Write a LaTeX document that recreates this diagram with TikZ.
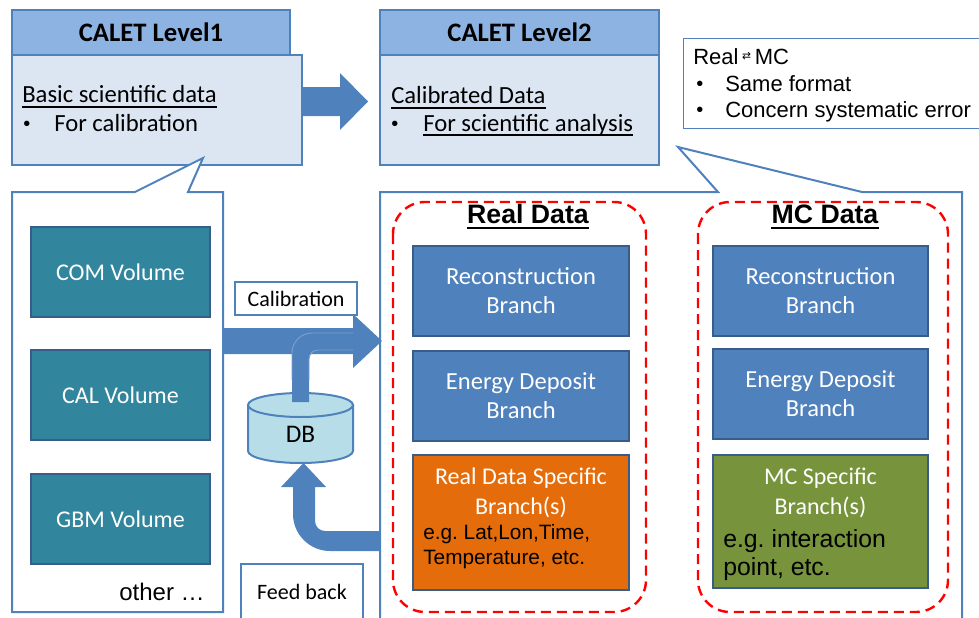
\documentclass[tikz,border=0pt]{standalone}
\usepackage{fontspec}
\setmainfont{Carlito}
\newfontfamily\arialf{Liberation Sans}
\newfontfamily\dejavuf{DejaVu Sans}
\definecolor{hdrblue}{HTML}{8DB3E2}
\definecolor{bodyblue}{HTML}{DCE6F2}
\definecolor{blueA}{HTML}{4F81BD}
\definecolor{blueB}{HTML}{385D8A}
\definecolor{tealA}{HTML}{31859C}
\definecolor{orangeA}{HTML}{E46C0A}
\definecolor{greenA}{HTML}{77933C}
\definecolor{dbfill}{HTML}{B7DEE8}
\definecolor{lightline}{HTML}{7C9FCD}
\frenchspacing
\begin{document}
\begin{tikzpicture}[x=0.75pt,y=-0.75pt,
  lvlhdr/.style={draw=blueA, fill=hdrblue, line width=1.5pt, inner sep=0pt,
    font=\fontsize{20}{24}\selectfont\bfseries},
  lvlbody/.style={draw=blueA, fill=bodyblue, line width=1.5pt, inner sep=0pt},
  callout/.style={draw=blueA, fill=white, line width=1.5pt, line join=miter},
  branchbox/.style={draw=blueB, fill=blueA, line width=1.5pt, text=white,
    font=\fontsize{18.4}{21.75}\selectfont, align=center, inner sep=0pt,
    minimum width=162pt, minimum height=67.5pt},
  volbox/.style={draw=blueB, fill=tealA, line width=1.5pt, text=white,
    font=\fontsize{18}{21}\selectfont, inner sep=0pt,
    minimum width=134.25pt, minimum height=67.5pt},
  tagbox/.style={draw=blueA, fill=white, line width=1.2pt, inner sep=0pt,
    font=\fontsize{16.5}{20}\selectfont},
  redbox/.style={draw=red, line width=1.8pt, dash pattern=on 7.5pt off 4.5pt,
    rounded corners=24pt},
  txt/.style={inner sep=0pt, anchor=base west},
  bodytxt/.style={txt, font=\fontsize{18.5}{22}\selectfont},
  bullettxt/.style={txt, font=\arialf\fontsize{15}{18}\selectfont},
  notetxt/.style={txt, font=\arialf\fontsize{16.5}{20}\selectfont},
  egtxt/.style={txt, font=\arialf\fontsize{15.6}{19}\selectfont},
  egbig/.style={txt, font=\arialf\fontsize{18.6}{22}\selectfont},
  sectitle/.style={inner sep=0pt, anchor=base, font=\arialf\bfseries\fontsize{20}{24}\selectfont},
  whitetxt/.style={inner sep=0pt, anchor=base, text=white, font=\fontsize{18}{21}\selectfont}
]
\useasboundingbox (0,0) rectangle (979,618);
\fill[white] (0,0) rectangle (979,618);
\clip (0,0) rectangle (979,618);

% ---------- Level 1 ----------
\node[lvlbody, minimum width=217.5pt, minimum height=82.5pt] (body1) at (157,110) {};
\node[lvlhdr, minimum width=208.5pt, minimum height=33.75pt] (hdr1) at (151,32.5) {CALET Level1};
\node[bodytxt] (basic) at (22,102) {Basic scientific data};
\draw[line width=1.1pt] ([yshift=-3.6pt]basic.base west) -- ([yshift=-3.6pt]basic.base east);
\node[bullettxt] (bul1) at (23,130) {•};
\node[bodytxt] (forcal) at (54,131) {For calibration};

% ---------- big arrow Level1 -> Level2 ----------
\fill[blueA] (302,87) -- (340,87) -- (340,73) -- (368,101.5) -- (340,130) -- (340,116) -- (302,116) -- cycle;

% ---------- Level 2 ----------
\node[lvlbody, minimum width=209.25pt, minimum height=82.5pt] (body2) at (519.5,110) {};
\node[lvlhdr, minimum width=209.25pt, minimum height=33.75pt] (hdr2) at (519.5,32.5) {CALET Level2};
\node[bodytxt] (calib) at (391,103) {Calibrated Data};
\draw[line width=1.1pt] ([yshift=-3.6pt]calib.base west) -- ([yshift=-3.6pt]calib.base east);
\node[bullettxt] (bul2) at (391,130) {•};
\node[bodytxt] (forsci) at (423,131) {For scientific analysis};
\draw[line width=1.1pt] ([yshift=-3pt]forsci.base west) -- ([yshift=-3pt]forsci.base east);

% ---------- note box ----------
\node[draw=blueA, fill=white, line width=1pt, anchor=north west, inner sep=0pt,
  minimum width=226.5pt, minimum height=67.5pt] (note) at (683,38) {};
\node[notetxt] (realmc) at (693,64) {Real\,\raisebox{3.5pt}{\dejavuf\fontsize{8}{10}\selectfont ⇄}\,MC};
\node[bullettxt] (nb1) at (696,90) {•};
\node[notetxt] (same) at (725,91) {Same format};
\node[bullettxt] (nb2) at (696,116) {•};
\node[notetxt] (conc) at (725,117) {Concern systematic error};

% ---------- callouts ----------
\filldraw[callout] (12,192) -- (135,192) -- (203,158) -- (188,192) -- (223,192) -- (223,612) -- (12,612) -- cycle;
\filldraw[callout] (380,192) -- (718,192) -- (678,147) -- (862,192) -- (962,192) -- (962,640) -- (380,640) -- cycle;

% ---------- volumes ----------
\node[volbox] (com) at (120.5,272) {COM Volume};
\node[volbox] (cal) at (120.5,395) {CAL Volume};
\node[volbox] (gbm) at (120.5,519) {GBM Volume};
\node[inner sep=0pt, anchor=base east, font=\arialf\fontsize{18}{21}\selectfont] (other) at (205,600) {other …};

% ---------- calibration arrow ----------
\node[tagbox, minimum width=91.5pt, minimum height=24.75pt] (calibtag) at (296,298.5) {Calibration};
\fill[blueA] (223,328) -- (353,328) -- (353,314) -- (382,341) -- (353,368) -- (353,354) -- (223,354) -- cycle;

% ---------- DB ----------
\filldraw[draw=blueA, fill=dbfill, line width=1.5pt] (248,405) -- (248,451)
  arc[start angle=180, end angle=360, x radius=39.375pt, y radius=9pt] -- (353,405) -- cycle;
\filldraw[draw=blueA, fill=dbfill, line width=1.5pt] (300.5,405) ellipse [x radius=39.375pt, y radius=9pt];
\node[inner sep=0pt, font=\fontsize{19}{22}\selectfont] (db) at (300.5,434) {DB};

% bent arrow DB -> calibration arrow
\fill[blueA] (292,402) -- (292,353) .. controls (292,342) and (301,333) .. (312,333) -- (354,333)
  -- (354,350) -- (318,350) .. controls (313,350) and (309,354) .. (309,359) -- (309,402) -- cycle;
\draw[lightline, line width=0.7pt] (292,380) -- (292,353) .. controls (292,342) and (301,333) .. (312,333) -- (353,333);
\draw[lightline, line width=0.7pt] (353,350) -- (318,350) .. controls (313,350) and (309,354) .. (309,359) -- (309,380);

% ---------- feedback arrow ----------
\fill[blueA] (380,551) -- (330,551) .. controls (309.6,551) and (293,534.4) .. (293,514) -- (293,487)
  -- (281,487) -- (303.5,463) -- (326,487) -- (315,487) -- (315,521)
  .. controls (315,526.5) and (319.5,531) .. (325,531) -- (380,531) -- cycle;
\node[tagbox, anchor=north, minimum width=91.5pt, minimum height=60pt] (fbtag) at (302,563) {};
\node[inner sep=0pt, font=\fontsize{16.5}{20}\selectfont] (fb) at (302,592) {Feed back};

% ---------- Real data ----------
\draw[redbox] (393,202) rectangle (646,612);
\node[sectitle] (realtitle) at (528,223) {Real Data};
\draw[line width=1.6pt] ([yshift=-3.8pt]realtitle.base west) -- ([yshift=-3.8pt]realtitle.base east);
\node[branchbox] (rrec) at (521,291) {Reconstruction\\Branch};
\node[branchbox] (rene) at (521,395.5) {Energy Deposit\\Branch};
\node[branchbox, fill=orangeA, minimum height=101.25pt] (rspec) at (521,522.5) {};
\node[whitetxt] (rs1) at (521,484) {Real Data Specific};
\node[whitetxt] (rs2) at (521,514) {Branch(s)};
\node[egtxt] (rs3) at (423,539) {e.g. Lat,Lon,Time,};
\node[egtxt] (rs4) at (423,564) {Temperature, etc.};

% ---------- MC data ----------
\draw[redbox] (698,202) rectangle (948,612);
\node[sectitle] (mctitle) at (825,223) {MC Data};
\draw[line width=1.6pt] ([yshift=-3.8pt]mctitle.base west) -- ([yshift=-3.8pt]mctitle.base east);
\node[branchbox, minimum width=161.25pt] (mrec) at (820.5,290.5) {Reconstruction\\Branch};
\node[branchbox, minimum width=161.25pt] (mene) at (820.5,393.5) {Energy Deposit\\Branch};
\node[branchbox, fill=greenA, minimum width=161.25pt, minimum height=99.75pt] (mspec) at (820.5,521.5) {};
\node[whitetxt] (ms1) at (820.5,484) {MC Specific};
\node[whitetxt] (ms2) at (820.5,514) {Branch(s)};
\node[egbig] (ms3) at (723,547) {e.g. interaction};
\node[egbig] (ms4) at (723,575) {point, etc.};
\end{tikzpicture}
\end{document}
